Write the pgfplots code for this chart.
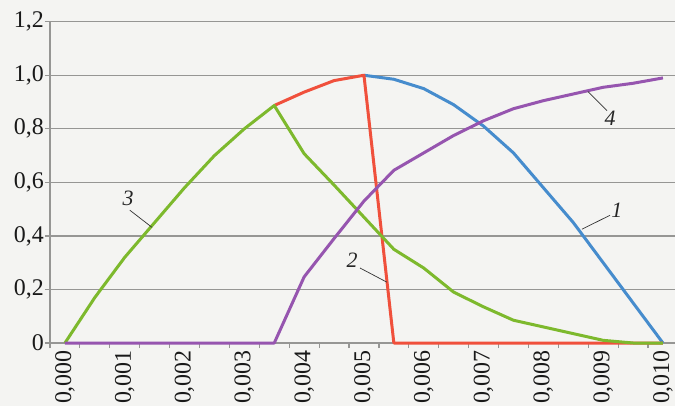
\documentclass[border=0pt]{standalone}
\usepackage{pgfplots}
\pgfplotsset{compat=1.18}
\usepackage{fontspec}
\setmainfont{Liberation Serif}
\definecolor{c1}{RGB}{70,140,205}
\definecolor{c2}{RGB}{240,80,60}
\definecolor{c3}{RGB}{125,185,45}
\definecolor{c4}{RGB}{150,85,175}
\definecolor{gridc}{RGB}{150,150,148}
\definecolor{bg}{RGB}{244,244,242}
\begin{document}
\begin{tikzpicture}
\fill[bg] (-50bp,-63bp) rectangle (625bp,343bp);
\begin{axis}[
  scale only axis, width=627.9bp, height=321.3bp,
  xmin=-0.5, xmax=20.5, ymin=0, ymax=1.2,
  clip=false,
  axis x line*=bottom, axis y line*=left,
  axis line style={gridc, line width=1.2bp, -},
  xtick={0,2,...,20},
  xticklabels={{0,000},{0,001},{0,002},{0,003},{0,004},{0,005},{0,006},{0,007},{0,008},{0,009},{0,010}},
  minor xtick={-0.5,0.5,...,20.5},
  ytick={0,0.2,...,1.2},
  yticklabels={0,{0,2},{0,4},{0,6},{0,8},{1,0},{1,2}},
  tick align=outside,
  major tick length=5bp, minor tick length=5bp,
  tick style={gridc, line width=1.2bp},
  major x tick style={draw=none},
  ymajorgrids,
  major grid style={gridc, line width=1.2bp},
  ticklabel style={font=\fontsize{24}{28}\selectfont, text=black!90},
  xticklabel style={rotate=90, anchor=east, inner sep=2bp},
  yticklabel style={inner sep=1bp},
  every axis plot/.append style={line width=3bp, line join=round, no markers},
]
% curve 1 (blue)
\addplot[c1] coordinates {(10,1.0) (11,0.985) (12,0.95) (13,0.89) (14,0.81) (15,0.71) (16,0.58) (17,0.45) (18,0.30) (19,0.15) (20,0.0)};
% curve 2 (red)
\addplot[c2] coordinates {(7,0.887) (8,0.937) (9,0.98) (10,1.0) (11,0) (12,0) (13,0) (14,0) (15,0) (16,0) (17,0) (18,0) (19,0) (20,0)};
% curve 3 (green)
\addplot[c3] coordinates {(0,0) (1,0.17) (2,0.32) (3,0.45) (4,0.58) (5,0.70) (6,0.80) (7,0.887) (8,0.707) (9,0.59) (10,0.47) (11,0.35) (12,0.28) (13,0.19) (14,0.135) (15,0.085) (16,0.06) (17,0.035) (18,0.01) (19,0) (20,0)};
% curve 4 (purple)
\addplot[c4] coordinates {(0,0) (1,0) (2,0) (3,0) (4,0) (5,0) (6,0) (7,0) (8,0.247) (9,0.39) (10,0.53) (11,0.645) (12,0.71) (13,0.775) (14,0.83) (15,0.875) (16,0.905) (17,0.93) (18,0.955) (19,0.97) (20,0.99)};
% curve labels
\begin{scope}[every node/.style={font=\fontsize{22}{24}\selectfont\itshape, text=black!85}]
\node at (axis cs:18.46,0.496) {1};
\draw[black!80, line width=0.7bp] (axis cs:17.29,0.425) -- (axis cs:18.23,0.477);
\node at (axis cs:9.60,0.309) {2};
\draw[black!80, line width=0.7bp] (axis cs:9.87,0.28) -- (axis cs:10.77,0.227);
\node at (axis cs:2.11,0.540) {3};
\draw[black!80, line width=0.7bp] (axis cs:2.17,0.496) -- (axis cs:2.91,0.432);
\node at (axis cs:18.23,0.839) {4};
\draw[black!80, line width=0.7bp] (axis cs:17.49,0.939) -- (axis cs:18.13,0.868);
\end{scope}
\end{axis}
\pgfresetboundingbox
\useasboundingbox (-50bp,-63bp) rectangle (625bp,343bp);
\end{tikzpicture}
\end{document}
